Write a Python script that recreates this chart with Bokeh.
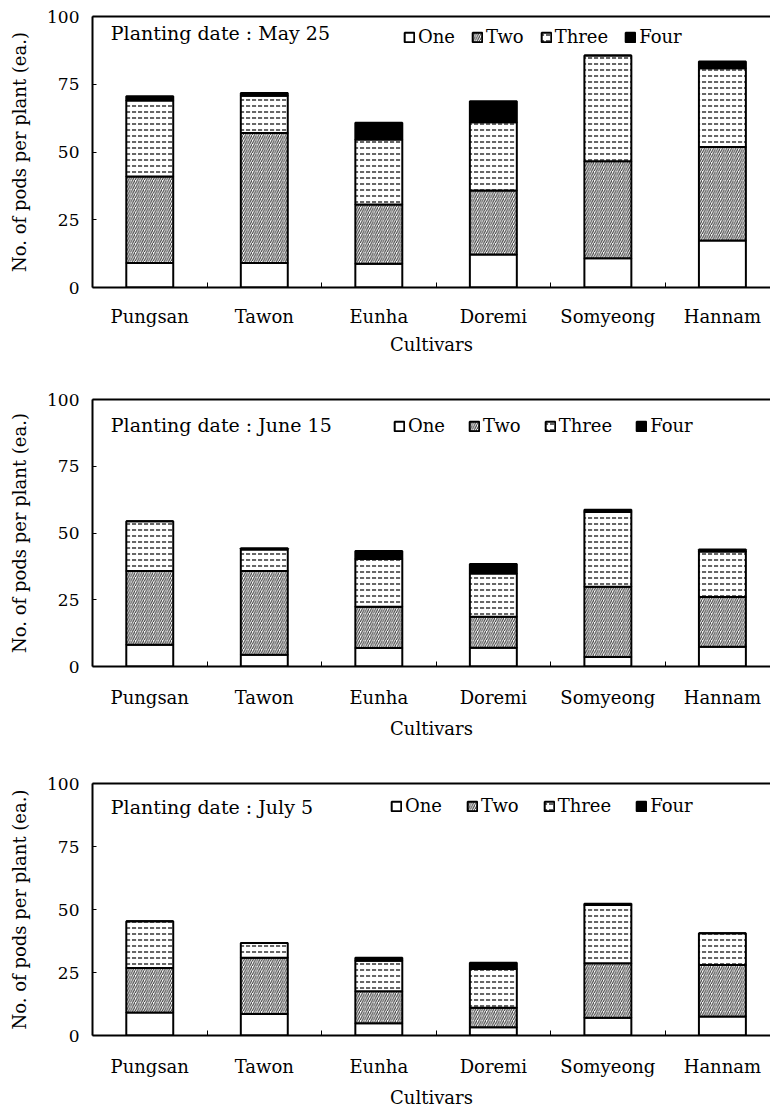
import numpy as np
from bokeh.plotting import figure
from bokeh.models import ColumnDataSource, Range1d, FixedTicker, LinearAxis, Label
from bokeh.layouts import column
from bokeh.embed import file_html
from bokeh.resources import INLINE

cultivars = ["Pungsan", "Tawon", "Eunha", "Doremi", "Somyeong", "Hannam"]
levels = ["One", "Two", "Three", "Four"]
y_ticks = [0, 25, 50, 75, 100]

# Planting date: May 25
may_one = [9.0, 9.0, 8.8, 12.2, 10.8, 17.3]
may_two = [32.0, 48.0, 21.8, 23.6, 35.8, 34.5]
may_three = [28.0, 13.8, 24.0, 25.2, 39.0, 29.1]
may_four = [1.6, 1.0, 6.2, 7.7, 0.0, 2.5]

# Planting date: June 15
jun_one = [8.1, 4.4, 6.9, 7.0, 3.6, 7.4]
jun_two = [27.7, 31.4, 15.5, 11.6, 26.3, 18.6]
jun_three = [18.6, 8.0, 17.9, 16.2, 28.0, 17.1]
jun_four = [0.0, 0.5, 3.0, 3.6, 0.8, 0.7]

# Planting date: July 5
jul_one = [9.1, 8.5, 4.9, 3.3, 7.0, 7.5]
jul_two = [17.7, 22.4, 12.7, 7.7, 21.7, 20.5]
jul_three = [18.5, 5.8, 12.1, 15.4, 23.1, 12.6]
jul_four = [0.0, 0.0, 1.2, 2.5, 0.5, 0.0]

FONT = "DejaVu Serif"


def make_panel(title, one, two, three, four, height, top, bottom,
               legend_loc, legend_spacing, title_y, lab_standoff, axlab_standoff):
    xs = list(np.arange(len(cultivars)) + 0.5)
    src = ColumnDataSource(dict(x=xs, One=one, Two=two, Three=three, Four=four))
    p = figure(width=770, height=height, x_range=Range1d(0, 5.92),
               y_range=Range1d(0, 100), output_backend="svg",
               toolbar_location=None, min_border_left=92, min_border_right=0,
               min_border_top=top, min_border_bottom=bottom)
    p.vbar_stack(levels, x="x", width=0.41, source=src,
                 fill_color=["white", "white", "white", "black"],
                 line_color="black", line_width=2,
                 hatch_pattern=[" ", "/", "\"", " "],
                 hatch_scale=[4, 4.5, 6, 4],
                 hatch_weight=[1, 1.1, 1.2, 1],
                 hatch_color=["black", "#3a3a3a", "black", "black"],
                 legend_label=levels)
    p.outline_line_color = None
    p.xgrid.grid_line_color = None
    p.ygrid.grid_line_color = None

    xa = p.xaxis[0]
    xa.ticker = FixedTicker(ticks=xs, minor_ticks=[1, 2, 3, 4, 5])
    xa.major_label_overrides = {x: c for x, c in zip(xs, cultivars)}
    xa.major_tick_in = 0
    xa.major_tick_out = 0
    xa.minor_tick_in = 5
    xa.minor_tick_out = 0
    xa.axis_line_width = 2
    xa.major_label_text_font = FONT
    xa.major_label_text_font_size = "18px"
    xa.major_label_text_color = "black"
    xa.major_label_standoff = lab_standoff
    xa.axis_label = "Cultivars"
    xa.axis_label_text_font = FONT
    xa.axis_label_text_font_size = "18px"
    xa.axis_label_text_font_style = "normal"
    xa.axis_label_text_color = "black"
    xa.axis_label_standoff = axlab_standoff

    ya = p.yaxis[0]
    ya.ticker = FixedTicker(ticks=y_ticks)
    ya.major_tick_in = 4
    ya.major_tick_out = 0
    ya.minor_tick_in = 0
    ya.minor_tick_out = 0
    ya.axis_line_width = 2
    ya.major_label_text_font = FONT
    ya.major_label_text_font_size = "17px"
    ya.major_label_text_color = "black"
    ya.major_label_standoff = 13
    ya.axis_label = "No. of pods per plant (ea.)"
    ya.axis_label_text_font = FONT
    ya.axis_label_text_font_size = "18px"
    ya.axis_label_text_font_style = "normal"
    ya.axis_label_text_color = "black"
    ya.axis_label_standoff = 14

    top_ax = LinearAxis(ticker=FixedTicker(ticks=[]), axis_line_width=2,
                        major_tick_line_color=None, minor_tick_line_color=None,
                        major_label_text_alpha=0)
    p.add_layout(top_ax, "above")

    p.add_layout(Label(x=0.16, y=title_y, text=title, text_font=FONT,
                       text_font_size="19px", text_baseline="middle",
                       text_color="black"))

    lg = p.legend[0]
    lg.orientation = "horizontal"
    lg.location = legend_loc
    lg.border_line_color = None
    lg.background_fill_alpha = 0
    lg.padding = 0
    lg.margin = 0
    lg.spacing = legend_spacing
    lg.glyph_width = 12
    lg.glyph_height = 12
    lg.label_standoff = 3
    lg.label_text_font = FONT
    lg.label_text_font_size = "18px"
    lg.label_text_color = "black"
    return p


p1 = make_panel("Planting date : May 25", may_one, may_two, may_three, may_four,
                370, 16, 83, (311, 240), 16, 94.0, 18, 4)
p2 = make_panel("Planting date : June 15", jun_one, jun_two, jun_three, jun_four,
                380, 29, 84, (301, 230), 23, 90.5, 20, 7)
p3 = make_panel("Planting date : July 5", jul_one, jul_two, jul_three, jul_four,
                360, 33, 75, (298, 219), 24, 90.5, 20, 7)

layout = column(p1, p2, p3, spacing=0)
open("out.html", "w").write(file_html(layout, INLINE))
